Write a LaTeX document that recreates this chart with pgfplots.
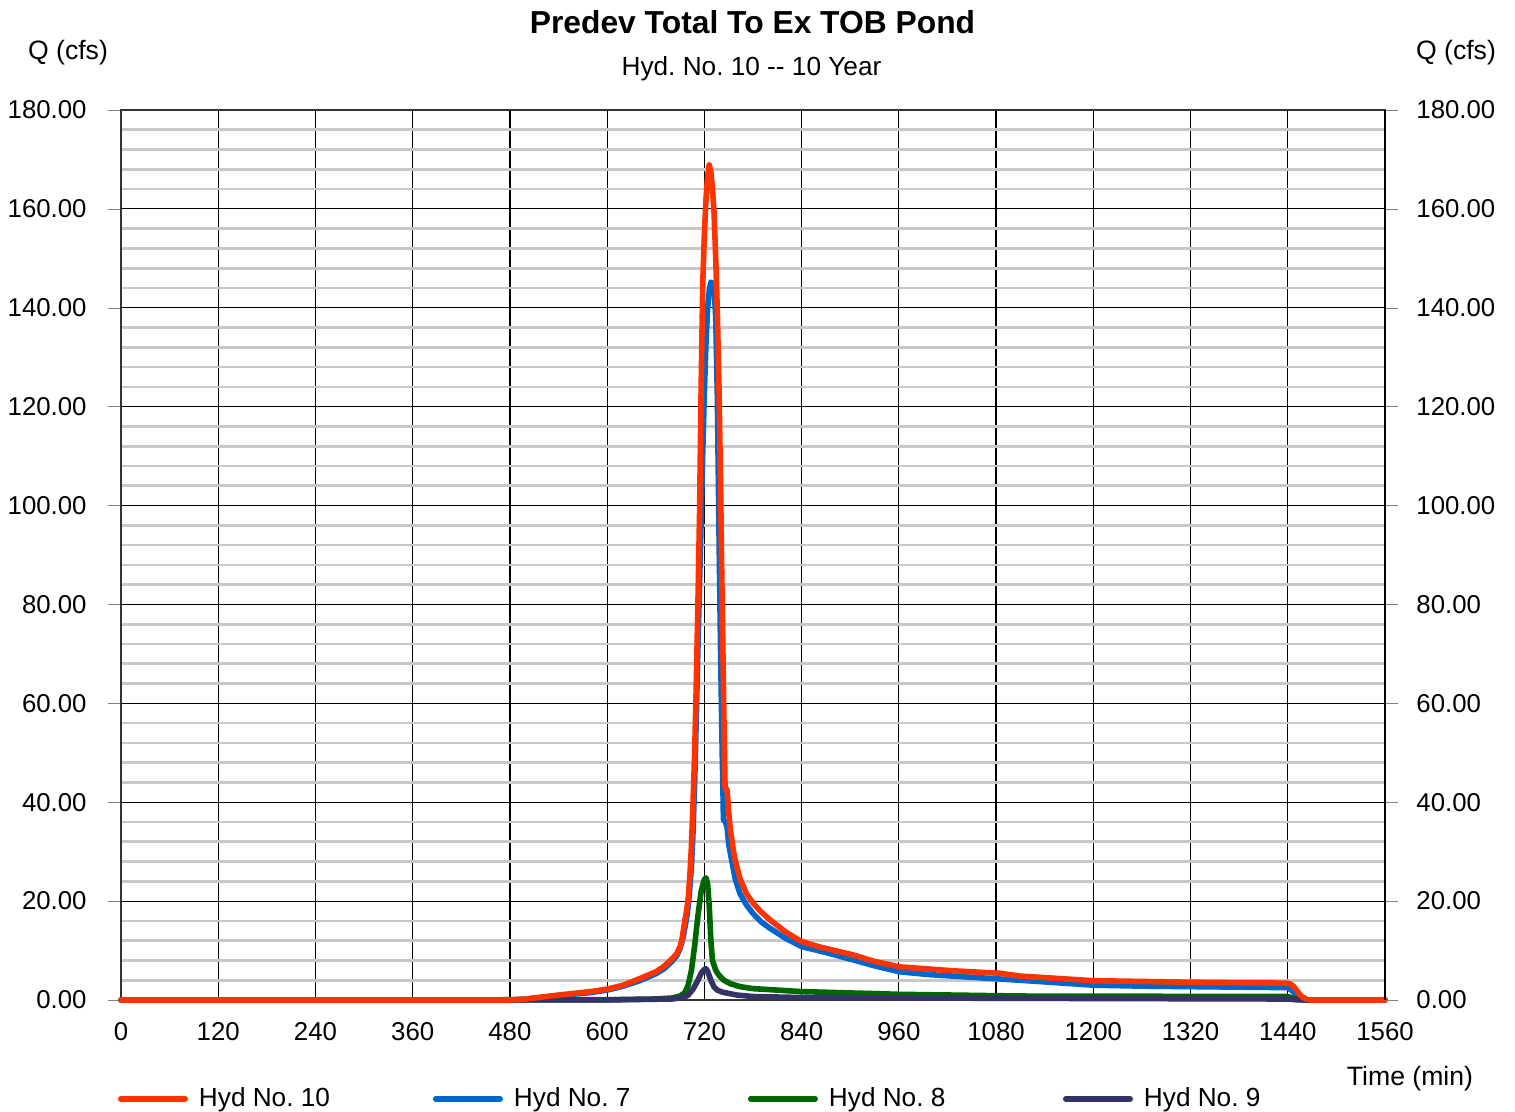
\documentclass[border=0pt]{standalone}
\usepackage{pgfplots}
\pgfplotsset{compat=1.18}
\usepackage{fontspec}
\setmainfont{Liberation Sans}
\frenchspacing

\definecolor{hydten}{RGB}{255,51,0}
\definecolor{hydseven}{RGB}{0,102,204}
\definecolor{hydeight}{RGB}{0,102,0}
\definecolor{hydnine}{RGB}{51,51,102}
\definecolor{minorgrid}{RGB}{200,200,200}

\newcommand{\tickfont}{\fontsize{12.9}{15}\selectfont}
\newcommand{\labelfont}{\fontsize{13.3}{16}\selectfont}
\newcommand{\legendfont}{\fontsize{13.1}{16}\selectfont}

\pgfplotsset{
  hydaxis/.style={
    at={(60.5pt,56pt)}, anchor=south west,
    scale only axis, width=632pt, height=445pt,
    xmin=0, xmax=1560, ymin=0, ymax=180,
    clip=false,
    /pgf/number format/assume math mode=true,
    tick label style={font=\tickfont},
    major tick length=6.5pt,
    tick align=outside,
  },
}

\begin{document}
\begin{tikzpicture}
\useasboundingbox (0,0) rectangle (757.5pt,556pt);

% main axis: grid, x ticks, left y ticks, hydrographs
\begin{axis}[
  hydaxis,
  axis line style={black!80, line width=0.8pt},
  xtick={0,120,...,1560},
  ytick={0,20,...,180},
  minor y tick num=4,
  grid=both,
  minor x tick num=0,
  major grid style={black, line width=0.6pt},
  minor grid style={minorgrid, line width=1.3pt},
  minor tick length=0pt,
  xtick style={draw=none},
  ytick pos=left,
  xtick pos=bottom,
  xticklabel style={/pgf/number format/1000 sep={}, anchor=north, inner sep=0pt, yshift=-4.5pt},
  yticklabel style={/pgf/number format/.cd, fixed, fixed zerofill, precision=2, /tikz/.cd, anchor=east, inner sep=0pt, xshift=-10.5pt},
  every axis plot/.append style={line width=2.8pt, line cap=round, line join=round},
  legend columns=4,
  legend style={draw=none, fill=none, font=\legendfont, at={(-0.0027,-0.1112)}, anchor=west,
    inner sep=0pt, nodes={inner sep=0pt},
    /tikz/every odd column/.append style={column sep=5.5pt},
    /tikz/every even column/.append style={column sep=17pt}},
  legend image code/.code={\draw[#1] (0pt,0pt) -- (32.2pt,0pt);},
]
\addlegendimage{hydten, line width=2.8pt, line cap=round}
\addlegendentry{\makebox[100pt][l]{Hyd No. 10}}
\addlegendimage{hydseven, line width=2.8pt, line cap=round}
\addlegendentry{\makebox[100pt][l]{Hyd No. 7}}
\addlegendimage{hydeight, line width=2.8pt, line cap=round}
\addlegendentry{\makebox[100pt][l]{Hyd No. 8}}
\addlegendimage{hydnine, line width=2.8pt, line cap=round}
\addlegendentry{\makebox[100pt][l]{Hyd No. 9}}

% Hyd No. 7
\addplot[hydseven, forget plot] coordinates {
 (0,0) (480,0) (500,0.2) (540,0.9) (580,1.5) (600,2.0) (620,2.8) (640,3.9)
 (660,5.3) (670,6.3) (680,7.8) (686,9.0) (690,10.4) (694,12.8) (698,16.5)
 (700,19) (702,22.5) (704,27) (706,34) (708,44) (710,57) (712,71) (714,84)
 (716,97) (718,111) (720,123) (722,133) (724,140) (726,143.5) (728,145.2)
 (730,145) (732,144) (734,138) (736,122) (738,95) (740,70) (742,50)
 (743,41.5) (743.5,36.5) (746,36) (748,35) (750,31.5) (754,28) (758,24.5)
 (764,21.5) (772,19.2) (780,17.5) (790,15.8) (801,14.5) (820,12.5)
 (840,10.8) (870,9.6) (904,8.1) (930,6.9) (961,5.7) (1000,5.1) (1050,4.6)
 (1109,4.0) (1200,3.0) (1260,2.8) (1320,2.7) (1440,2.5) (1446,1.8)
 (1452,0.8) (1458,0.1) (1462,0) (1560,0)
};
% Hyd No. 8
\addplot[hydeight, forget plot] coordinates {
 (0,0) (600,0.05) (660,0.2) (680,0.4) (690,0.8) (696,1.5) (700,3) (704,6)
 (708,11) (712,17) (716,22) (720,24.4) (722,24.7) (724,23.5) (726,19)
 (728,12) (730,8) (734,6) (738,5) (744,4) (752,3.3) (764,2.7) (780,2.3)
 (840,1.7) (960,1.15) (1110,0.8) (1440,0.7) (1450,0.2) (1460,0) (1560,0)
};
% Hyd No. 9
\addplot[hydnine, forget plot] coordinates {
 (0,0) (600,0.02) (680,0.2) (694,0.5) (700,1.0) (706,2.2) (712,4.0)
 (716,5.4) (720,6.2) (722,6.3) (724,5.8) (728,4.0) (732,2.6) (736,2.0)
 (742,1.6) (760,1.0) (780,0.7) (840,0.5) (960,0.4) (1200,0.3) (1440,0.2)
 (1450,0.05) (1460,0) (1560,0)
};
% Hyd No. 10
\addplot[hydten, forget plot] coordinates {
 (0,0) (480,0) (500,0.2) (540,1.0) (580,1.7) (600,2.2) (620,3.0) (640,4.3)
 (660,5.7) (670,6.8) (680,8.3) (686,9.4) (690,10.8) (692,12.0) (694,14)
 (696,16.2) (698,18) (700,20.5) (702,25) (704,31) (706,40) (708,50)
 (710,64) (712,80) (714,98) (716,124) (718,145) (720,155) (722,162)
 (724,166.5) (726,168.9) (728,167.5) (730,164) (732,159) (734,150)
 (736,139) (738,124) (740,104) (741,91) (742,80) (744,58) (745.5,43)
 (748,42.5) (750,38) (752,34.5) (756,30) (758,28.3) (764,24.5) (772,21.5)
 (780,19.6) (790,17.8) (801,16.2) (820,13.8) (840,11.8) (863,10.7)
 (904,9.1) (930,7.8) (961,6.7) (1027,5.9) (1085,5.4) (1109,4.85)
 (1200,3.9) (1320,3.6) (1440,3.4) (1444,3.2) (1448,2.6) (1452,1.7)
 (1456,0.9) (1460,0.4) (1464,0.1) (1468,0) (1560,0)
};
\end{axis}

% right-hand scale
\begin{axis}[
  hydaxis,
  axis line style={black, line width=0.8pt},
  axis x line=none,
  axis y line*=right,
  ytick={0,20,...,180},
  ytick pos=right,
  yticklabel pos=right,
  yticklabel style={/pgf/number format/.cd, fixed, fixed zerofill, precision=2, /tikz/.cd, anchor=west, inner sep=0pt, xshift=9pt},
]
\end{axis}

% titles and axis captions
\node[font=\bfseries\fontsize{15.9}{18}\selectfont] at (376.25pt,545pt) {Predev Total To Ex TOB Pond};
\node[font=\fontsize{13.1}{16}\selectfont] at (375.75pt,521.5pt) {Hyd. No. 10 -{}- 10 Year};
\node[font=\labelfont] at (34pt,529.5pt) {Q (cfs)};
\node[font=\labelfont] at (728pt,529.5pt) {Q (cfs)};
\node[font=\labelfont] at (705pt,16.5pt) {Time (min)};
\end{tikzpicture}
\end{document}
